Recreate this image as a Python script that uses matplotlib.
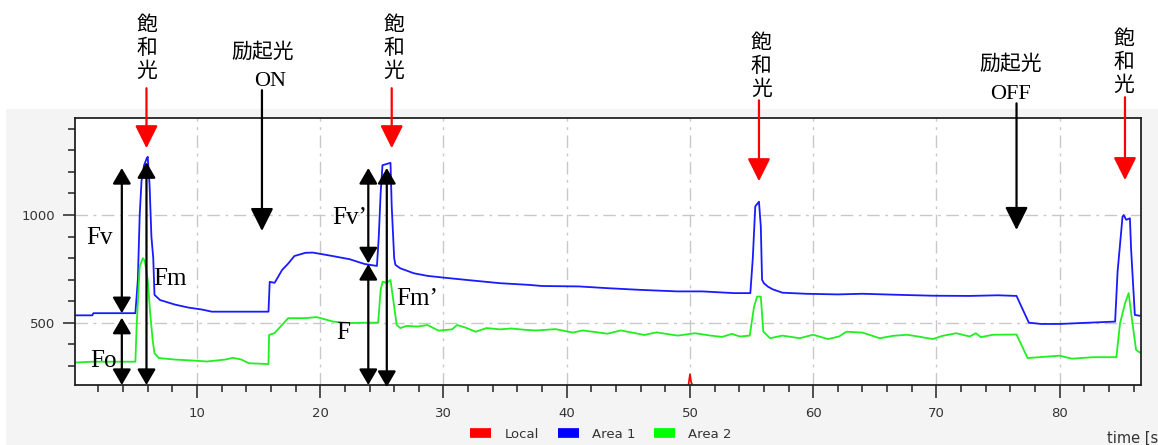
from matplotlib import pyplot as plt
from matplotlib.patches import Rectangle
from matplotlib.lines import Line2D
import numpy as np

# Area 1 (blue trace)
time1 = [0.1, 1.5, 1.6, 5.0, 5.2, 5.35, 5.5, 5.7, 5.9, 6.0, 6.15, 6.3, 6.45, 6.55,
         7.0, 8.2, 9.3, 10.4, 11.2, 13.5, 15.8, 15.9, 16.3, 16.9, 17.4, 17.9, 18.8,
         19.4, 21.0, 22.4, 23.6, 24.6, 24.75, 24.9, 25.05, 25.7, 25.8, 26.0, 26.1,
         26.5, 27.6, 28.7, 30.0, 31.9, 34.6, 37.0, 38.0, 41.0, 43.3, 46.0, 49.0,
         51.0, 53.6, 54.9, 55.1, 55.3, 55.6, 55.75, 55.85, 56.0, 56.3, 56.7, 57.5,
         59.4, 62.0, 64.0, 67.0, 69.7, 72.7, 75.0, 76.5, 76.9, 77.5, 78.5, 80.0,
         82.4, 84.5, 84.7, 85.1, 85.2, 85.4, 85.7, 85.8, 86.1, 86.6]
area1 = [535, 535, 545, 545, 700, 1000, 1160, 1230, 1260, 1270, 1140, 900, 800, 630,
         606, 585, 571, 562, 552, 552, 552, 690, 686, 745, 775, 810, 825,
         826, 810, 795, 773, 764, 900, 1100, 1231, 1242, 1040, 800, 769,
         753, 730, 718, 710, 699, 684, 676, 671, 669, 661, 653, 646,
         646, 638, 638, 800, 1040, 1062, 946, 700, 684, 669, 656, 640,
         635, 632, 635, 630, 626, 625, 628, 625, 575, 501, 495, 495,
         501, 506, 738, 992, 1000, 978, 985, 838, 537, 532]

# Area 2 (green trace)
time2 = [0.1, 1.5, 5.0, 5.1, 5.35, 5.6, 5.75, 6.0, 6.2, 6.4, 6.55, 6.9, 8.2, 9.5,
         10.8, 12.3, 12.9, 13.6, 14.2, 15.8, 15.85, 16.3, 17.4, 18.8, 19.7, 21.05,
         22.4, 23.8, 24.7, 24.9, 25.06, 25.4, 25.7, 26.0, 26.2, 26.5, 27.0, 27.9,
         28.7, 29.6, 30.7, 31.1, 31.8, 32.6, 33.5, 34.6, 35.5, 36.6, 37.5, 39.1,
         40.5, 41.3, 43.3, 44.4, 46.3, 47.3, 49.0, 50.4, 51.7, 52.6, 53.4, 54.05,
         54.85, 55.2, 55.45, 55.75, 55.95, 56.5, 57.5, 58.9, 60.0, 61.2, 62.1, 62.7,
         64.0, 65.4, 66.5, 67.6, 68.5, 69.7, 70.5, 71.6, 72.7, 73.2, 73.6, 74.6,
         76.5, 77.4, 80.0, 81.0, 82.7, 84.6, 84.9, 85.3, 85.6, 85.8, 86.2, 86.6]
area2 = [316, 320, 320, 483, 761, 800, 790, 700, 545, 421, 360, 337, 330, 326,
         321, 330, 338, 330, 313, 309, 444, 453, 522, 522, 527, 506,
         499, 501, 501, 653, 691, 685, 699, 575, 491, 476, 486, 483,
         490, 464, 470, 490, 478, 459, 476, 470, 474, 468, 465, 471,
         455, 465, 450, 465, 444, 456, 441, 452, 441, 435, 449, 437,
         441, 575, 622, 622, 460, 429, 441, 429, 445, 425, 437, 459,
         455, 429, 440, 445, 437, 425, 440, 452, 437, 452, 434, 445,
         446, 337, 348, 334, 341, 341, 498, 590, 638, 545, 375, 359]

# Local (red trace, mostly below the visible range)
time_local = [0.1, 49.85, 50.0, 50.1, 50.3, 86.6]
local = [200, 200, 262, 225, 200, 200]

legend_labels = ['Local', 'Area 1', 'Area 2']

cjk = ['Noto Sans CJK JP', 'DejaVu Sans']
serif = ['Liberation Serif', 'DejaVu Serif']

fig = plt.figure(figsize=(11.58, 4.45), dpi=100)
fig.patches.append(Rectangle((6 / 1158, 0), 1, 336 / 445, transform=fig.transFigure,
                             facecolor='#f4f4f4', edgecolor='none', zorder=-1))
ax = fig.add_axes([75 / 1158, 60 / 445, 1066 / 1158, 267 / 445])

ax.plot(time_local, local, color='#ff0000', lw=1.2)
ax.plot(time1, area1, color='#1a1aff', lw=1.3)
ax.plot(time2, area2, color='#22ee22', lw=1.3)

ax.set_xlim(0.1, 86.6)
ax.set_ylim(212, 1450)
ax.set_xticks(range(10, 90, 10))
ax.set_xticks(np.arange(2, 87, 2), minor=True)
ax.set_yticks([500, 1000])
ax.set_yticks(range(300, 1500, 100), minor=True)
ax.grid(which='major', color='#c8c8c8', lw=1.0, linestyle=(0, (9, 4, 2, 4)))
ax.tick_params(which='major', length=9, width=1.2, colors='#333333', labelsize=9.5)
ax.tick_params(which='minor', length=5, width=1.2, colors='#333333')
ax.tick_params(axis='x', which='major', pad=7)
ax.tick_params(axis='y', which='major', pad=5)
for s in ax.spines.values():
    s.set_color('#222222')
    s.set_linewidth(1.3)

# double arrows (Fv, Fo, Fm, Fv', F, Fm')
dbl = dict(arrowstyle='<|-|>,head_length=0.48,head_width=0.28', lw=1.6, color='k',
           mutation_scale=20, shrinkA=0, shrinkB=0)
for x, y0, y1 in [(3.9, 545, 1218), (3.9, 212, 524), (5.9, 212, 1245),
                  (23.9, 776, 1218), (23.9, 212, 773), (25.4, 203, 1218)]:
    ax.annotate('', xy=(x, y1), xytext=(x, y0), arrowprops=dbl, annotation_clip=False)

for txt, x, y in [('Fv', 2.1, 893), ('Fm', 7.8, 704), ('Fo', 2.45, 324),
                  ('Fv\u2019', 22.4, 986), ('Fm\u2019', 27.9, 611), ('F', 21.85, 454)]:
    ax.text(x, y, txt, family=serif, fontsize=18, ha='center', va='center')

# arrows from the top labels
for x, y0, y1, c in [(5.9, 1588, 1310, 'red'), (15.27, 1579, 926, 'black'),
                     (25.8, 1588, 1310, 'red'), (55.6, 1532, 1157, 'red'),
                     (76.5, 1518, 931, 'black'), (85.3, 1546, 1162, 'red')]:
    ax.annotate('', xy=(x, y1), xytext=(x, y0), annotation_clip=False,
                arrowprops=dict(arrowstyle='-|>,head_length=0.7,head_width=0.35', lw=1.6,
                                color=c, mutation_scale=20, shrinkA=0, shrinkB=0))

for x, y in [(5.95, 1773), (26.0, 1773), (55.8, 1690), (85.2, 1710)]:
    ax.text(x, y, '飽\n和\n光', family=cjk, fontsize=15, ha='center', va='center',
            linespacing=1.05, clip_on=False)

ax.text(15.3, 1755, '励起光', family=cjk, fontsize=15, ha='center', va='center', clip_on=False)
ax.text(15.9, 1618, 'ON', family=serif, fontsize=16, ha='center', va='center', clip_on=False)
ax.text(76.0, 1700, '励起光', family=cjk, fontsize=15, ha='center', va='center', clip_on=False)
ax.text(76.0, 1560, 'OFF', family=serif, fontsize=16, ha='center', va='center', clip_on=False)

handles = [Line2D([], [], color=c, lw=7, solid_capstyle='butt')
           for c in ['#ff0000', '#0000ff', '#00ff00']]
fig.legend(handles, legend_labels, loc='center', bbox_to_anchor=(601 / 1158, 11 / 445),
           ncol=3, frameon=False, fontsize=9.5, handlelength=1.6, columnspacing=1.4,
           handletextpad=1.0, labelcolor='#333333')
fig.text(1107 / 1158, 7 / 445, 'time [s]', fontsize=10.5, color='#333333', va='center')

fig.savefig('out.png', dpi=100)
